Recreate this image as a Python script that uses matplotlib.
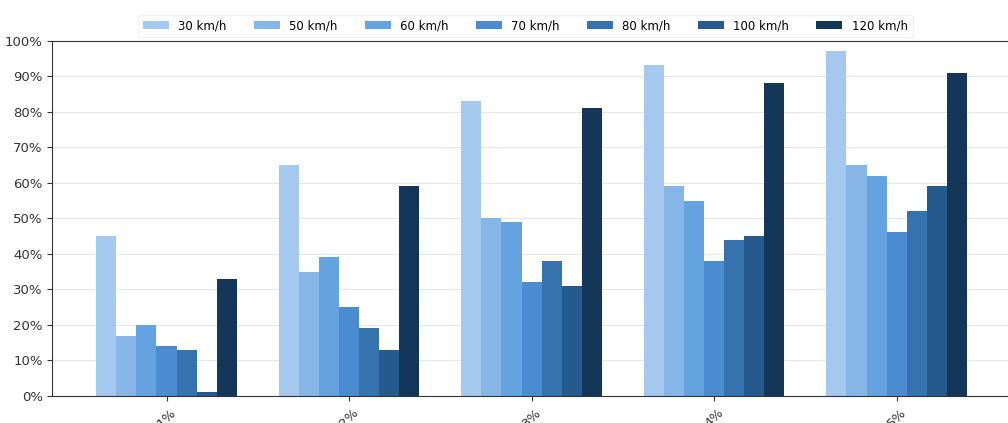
import numpy as np
import matplotlib
matplotlib.use("Agg")
import matplotlib.pyplot as plt
import matplotlib.ticker as ticker

# Share of cases per gradient, by speed
gradients = ["1%", "2%", "3%", "4%", "5%"]
speeds = ["30 km/h", "50 km/h", "60 km/h", "70 km/h", "80 km/h", "100 km/h", "120 km/h"]
v30 = [45, 65, 83, 93, 97]
v50 = [17, 35, 50, 59, 65]
v60 = [20, 39, 49, 55, 62]
v70 = [14, 25, 32, 38, 46]
v80 = [13, 19, 38, 44, 52]
v100 = [1, 13, 31, 45, 59]
v120 = [33, 59, 81, 88, 91]
series = [v30, v50, v60, v70, v80, v100, v120]

colors = ["#a4c8ee", "#86b6e8", "#64a2e0", "#4a8ccf", "#3672ad", "#255a8e", "#133659"]

fig = plt.figure(figsize=(10.08, 4.23), dpi=100)
ax = fig.add_axes([0.052, 0.064, 0.948, 0.84])

x = np.arange(len(gradients))
w = 0.11
for i, (vals, lab, c) in enumerate(zip(series, speeds, colors)):
    ax.bar(x + (i - 3) * w, vals, width=w, color=c, label=lab, zorder=2)

ax.set_ylim(0, 100)
ax.set_xlim(-0.625, 4.61)
ax.yaxis.set_major_locator(ticker.MultipleLocator(10))
ax.yaxis.set_major_formatter(ticker.FuncFormatter(lambda v, _: f"{int(v)}%"))
ax.set_xticks(x)
ax.set_xticklabels(gradients, rotation=45)
ax.grid(axis="y", color="#e6e6e6", lw=0.8, zorder=0)
ax.tick_params(labelsize=9.5, colors="#333333")
for s in ax.spines.values():
    s.set_color("#333333")
ax.spines["right"].set_visible(False)

ax.legend(loc="lower center", bbox_to_anchor=(0.495, 1.0), ncol=7, fontsize=8.5,
          frameon=True, edgecolor="#eeeeee", handlelength=2.2, columnspacing=2.3,
          borderaxespad=0.3)

fig.savefig("out.png", dpi=100)
